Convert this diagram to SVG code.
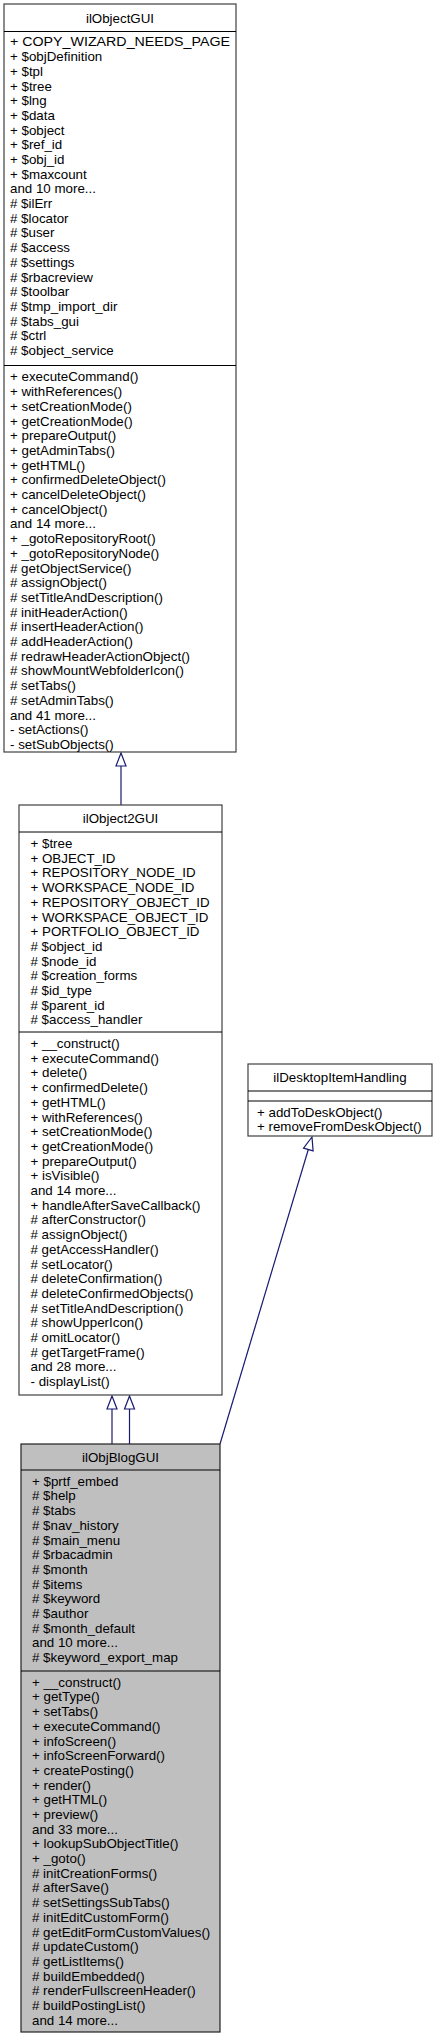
<svg xmlns="http://www.w3.org/2000/svg" width="435" height="2040" viewBox="0 0 435 2040">
<style>
.box{fill:#ffffff;stroke:#404040;stroke-width:1.2}
.cur{fill:#bfbfbf;stroke:#202020;stroke-width:1.2}
.sep{stroke:#000000;stroke-width:1;fill:none}
text{font-family:"Liberation Sans",Arial,Helvetica,sans-serif;font-size:13.33px;fill:#000000}
.t{text-anchor:middle}
.edge{stroke:#191970;stroke-width:1.2;fill:none}
.head{fill:#ffffff;stroke:#191970;stroke-width:1.2}
</style>
<rect width="435" height="2040" fill="#ffffff"/>
<g id="connectors">
<line class="edge" x1="121" y1="766" x2="121" y2="805"/>
<polygon class="head" points="121,753 116,766 126,766"/>
<line class="edge" x1="112" y1="1409" x2="112" y2="1444"/>
<polygon class="head" points="112,1396 107,1409 117,1409"/>
<line class="edge" x1="129.5" y1="1409" x2="129.5" y2="1444"/>
<polygon class="head" points="129.5,1396 124.5,1409 134.5,1409"/>
<line class="edge" x1="220" y1="1444" x2="308.3" y2="1149.5"/>
<polygon class="head" points="312,1137 313.1,1150.9 303.5,1148.1"/>
</g>
<g id="ilObjectGUI">
<rect class="box" x="4" y="4" width="232" height="748"/>
<line class="sep" x1="4" y1="31.5" x2="236" y2="31.5"/>
<line class="sep" x1="4" y1="365.5" x2="236" y2="365.5"/>
<text class="t" x="120" y="23">ilObjectGUI</text>
<text x="10" y="46.4"><tspan x="10" textLength="220" lengthAdjust="spacingAndGlyphs">+ COPY_WIZARD_NEEDS_PAGE</tspan><tspan x="10" dy="14.7">+ $objDefinition</tspan><tspan x="10" dy="14.7">+ $tpl</tspan><tspan x="10" dy="14.7">+ $tree</tspan><tspan x="10" dy="14.7">+ $lng</tspan><tspan x="10" dy="14.7">+ $data</tspan><tspan x="10" dy="14.7">+ $object</tspan><tspan x="10" dy="14.7">+ $ref_id</tspan><tspan x="10" dy="14.7">+ $obj_id</tspan><tspan x="10" dy="14.7">+ $maxcount</tspan><tspan x="10" dy="14.7">and 10 more...</tspan><tspan x="10" dy="14.7"># $ilErr</tspan><tspan x="10" dy="14.7"># $locator</tspan><tspan x="10" dy="14.7"># $user</tspan><tspan x="10" dy="14.7"># $access</tspan><tspan x="10" dy="14.7"># $settings</tspan><tspan x="10" dy="14.7"># $rbacreview</tspan><tspan x="10" dy="14.7"># $toolbar</tspan><tspan x="10" dy="14.7"># $tmp_import_dir</tspan><tspan x="10" dy="14.7"># $tabs_gui</tspan><tspan x="10" dy="14.7"># $ctrl</tspan><tspan x="10" dy="14.7"># $object_service</tspan></text>
<text x="10" y="381.4"><tspan x="10">+ executeCommand()</tspan><tspan x="10" dy="14.7">+ withReferences()</tspan><tspan x="10" dy="14.7">+ setCreationMode()</tspan><tspan x="10" dy="14.7">+ getCreationMode()</tspan><tspan x="10" dy="14.7">+ prepareOutput()</tspan><tspan x="10" dy="14.7">+ getAdminTabs()</tspan><tspan x="10" dy="14.7">+ getHTML()</tspan><tspan x="10" dy="14.7">+ confirmedDeleteObject()</tspan><tspan x="10" dy="14.7">+ cancelDeleteObject()</tspan><tspan x="10" dy="14.7">+ cancelObject()</tspan><tspan x="10" dy="14.7">and 14 more...</tspan><tspan x="10" dy="14.7">+ _gotoRepositoryRoot()</tspan><tspan x="10" dy="14.7">+ _gotoRepositoryNode()</tspan><tspan x="10" dy="14.7"># getObjectService()</tspan><tspan x="10" dy="14.7"># assignObject()</tspan><tspan x="10" dy="14.7"># setTitleAndDescription()</tspan><tspan x="10" dy="14.7"># initHeaderAction()</tspan><tspan x="10" dy="14.7"># insertHeaderAction()</tspan><tspan x="10" dy="14.7"># addHeaderAction()</tspan><tspan x="10" dy="14.7"># redrawHeaderActionObject()</tspan><tspan x="10" dy="14.7"># showMountWebfolderIcon()</tspan><tspan x="10" dy="14.7"># setTabs()</tspan><tspan x="10" dy="14.7"># setAdminTabs()</tspan><tspan x="10" dy="14.7">and 41 more...</tspan><tspan x="10" dy="14.7">- setActions()</tspan><tspan x="10" dy="14.7">- setSubObjects()</tspan></text>
</g>
<g id="ilObject2GUI">
<rect class="box" x="19" y="805" width="203" height="590"/>
<line class="sep" x1="19" y1="832" x2="222" y2="832"/>
<line class="sep" x1="19" y1="1032" x2="222" y2="1032"/>
<text class="t" x="120.5" y="822.7">ilObject2GUI</text>
<text x="30.5" y="848"><tspan x="30.5">+ $tree</tspan><tspan x="30.5" dy="14.7">+ OBJECT_ID</tspan><tspan x="30.5" dy="14.7">+ REPOSITORY_NODE_ID</tspan><tspan x="30.5" dy="14.7">+ WORKSPACE_NODE_ID</tspan><tspan x="30.5" dy="14.7">+ REPOSITORY_OBJECT_ID</tspan><tspan x="30.5" dy="14.7">+ WORKSPACE_OBJECT_ID</tspan><tspan x="30.5" dy="14.7">+ PORTFOLIO_OBJECT_ID</tspan><tspan x="30.5" dy="14.7"># $object_id</tspan><tspan x="30.5" dy="14.7"># $node_id</tspan><tspan x="30.5" dy="14.7"># $creation_forms</tspan><tspan x="30.5" dy="14.7"># $id_type</tspan><tspan x="30.5" dy="14.7"># $parent_id</tspan><tspan x="30.5" dy="14.7"># $access_handler</tspan></text>
<text x="30.5" y="1048"><tspan x="30.5">+ __construct()</tspan><tspan x="30.5" dy="14.7">+ executeCommand()</tspan><tspan x="30.5" dy="14.7">+ delete()</tspan><tspan x="30.5" dy="14.7">+ confirmedDelete()</tspan><tspan x="30.5" dy="14.7">+ getHTML()</tspan><tspan x="30.5" dy="14.7">+ withReferences()</tspan><tspan x="30.5" dy="14.7">+ setCreationMode()</tspan><tspan x="30.5" dy="14.7">+ getCreationMode()</tspan><tspan x="30.5" dy="14.7">+ prepareOutput()</tspan><tspan x="30.5" dy="14.7">+ isVisible()</tspan><tspan x="30.5" dy="14.7">and 14 more...</tspan><tspan x="30.5" dy="14.7">+ handleAfterSaveCallback()</tspan><tspan x="30.5" dy="14.7"># afterConstructor()</tspan><tspan x="30.5" dy="14.7"># assignObject()</tspan><tspan x="30.5" dy="14.7"># getAccessHandler()</tspan><tspan x="30.5" dy="14.7"># setLocator()</tspan><tspan x="30.5" dy="14.7"># deleteConfirmation()</tspan><tspan x="30.5" dy="14.7"># deleteConfirmedObjects()</tspan><tspan x="30.5" dy="14.7"># setTitleAndDescription()</tspan><tspan x="30.5" dy="14.7"># showUpperIcon()</tspan><tspan x="30.5" dy="14.7"># omitLocator()</tspan><tspan x="30.5" dy="14.7"># getTargetFrame()</tspan><tspan x="30.5" dy="14.7">and 28 more...</tspan><tspan x="30.5" dy="14.7">- displayList()</tspan></text>
</g>
<g id="ilDesktopItemHandling">
<rect class="box" x="248" y="1064" width="184" height="72"/>
<line class="sep" x1="248" y1="1091" x2="432" y2="1091"/>
<line class="sep" x1="248" y1="1101" x2="432" y2="1101"/>
<text class="t" x="340" y="1082">ilDesktopItemHandling</text>
<text x="257" y="1116.7"><tspan x="257">+ addToDeskObject()</tspan><tspan x="257" dy="14.7">+ removeFromDeskObject()</tspan></text>
</g>
<g id="ilObjBlogGUI">
<rect class="cur" x="21" y="1444" width="199" height="588"/>
<line class="sep" x1="21" y1="1470" x2="220" y2="1470"/>
<line class="sep" x1="21" y1="1671" x2="220" y2="1671"/>
<text class="t" x="120.5" y="1461.7">ilObjBlogGUI</text>
<text x="32" y="1485.7"><tspan x="32">+ $prtf_embed</tspan><tspan x="32" dy="14.7"># $help</tspan><tspan x="32" dy="14.7"># $tabs</tspan><tspan x="32" dy="14.7"># $nav_history</tspan><tspan x="32" dy="14.7"># $main_menu</tspan><tspan x="32" dy="14.7"># $rbacadmin</tspan><tspan x="32" dy="14.7"># $month</tspan><tspan x="32" dy="14.7"># $items</tspan><tspan x="32" dy="14.7"># $keyword</tspan><tspan x="32" dy="14.7"># $author</tspan><tspan x="32" dy="14.7"># $month_default</tspan><tspan x="32" dy="14.7">and 10 more...</tspan><tspan x="32" dy="14.7"># $keyword_export_map</tspan></text>
<text x="32" y="1686.7"><tspan x="32">+ __construct()</tspan><tspan x="32" dy="14.7">+ getType()</tspan><tspan x="32" dy="14.7">+ setTabs()</tspan><tspan x="32" dy="14.7">+ executeCommand()</tspan><tspan x="32" dy="14.7">+ infoScreen()</tspan><tspan x="32" dy="14.7">+ infoScreenForward()</tspan><tspan x="32" dy="14.7">+ createPosting()</tspan><tspan x="32" dy="14.7">+ render()</tspan><tspan x="32" dy="14.7">+ getHTML()</tspan><tspan x="32" dy="14.7">+ preview()</tspan><tspan x="32" dy="14.7">and 33 more...</tspan><tspan x="32" dy="14.7">+ lookupSubObjectTitle()</tspan><tspan x="32" dy="14.7">+ _goto()</tspan><tspan x="32" dy="14.7"># initCreationForms()</tspan><tspan x="32" dy="14.7"># afterSave()</tspan><tspan x="32" dy="14.7"># setSettingsSubTabs()</tspan><tspan x="32" dy="14.7"># initEditCustomForm()</tspan><tspan x="32" dy="14.7"># getEditFormCustomValues()</tspan><tspan x="32" dy="14.7"># updateCustom()</tspan><tspan x="32" dy="14.7"># getListItems()</tspan><tspan x="32" dy="14.7"># buildEmbedded()</tspan><tspan x="32" dy="14.7"># renderFullscreenHeader()</tspan><tspan x="32" dy="14.7"># buildPostingList()</tspan><tspan x="32" dy="14.7">and 14 more...</tspan></text>
</g>
</svg>
